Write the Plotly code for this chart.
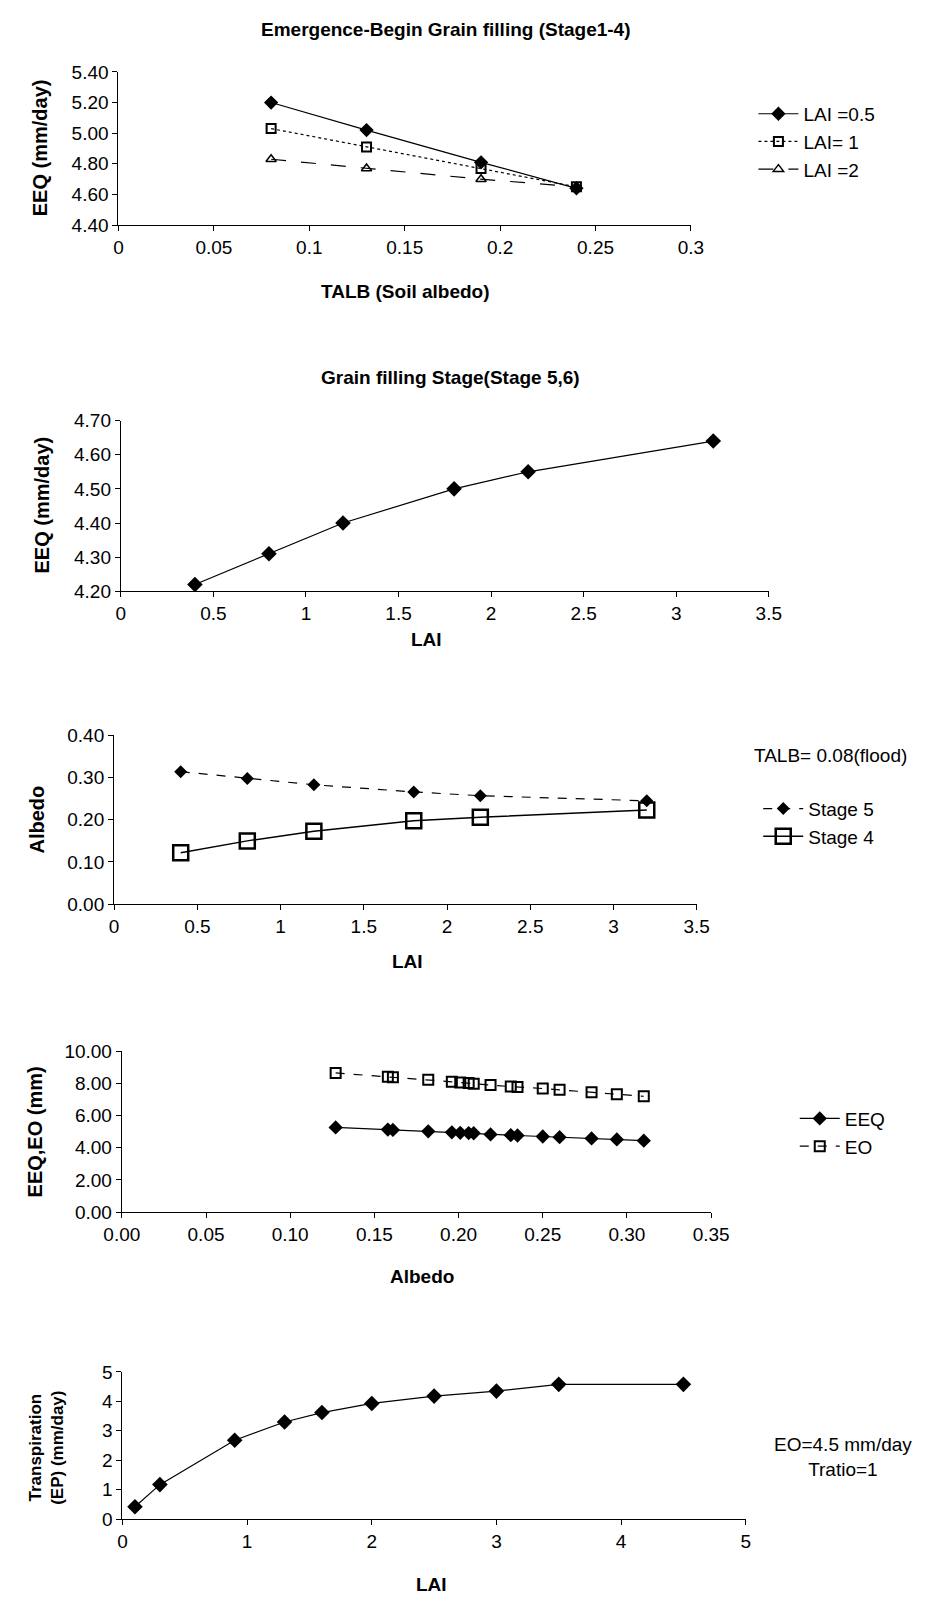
import plotly.graph_objects as go

W, H = 931, 1608

# ---------------- data ----------------
# Panel 1: EEQ vs soil albedo (Stage 1-4)
talb = [0.08, 0.13, 0.19, 0.24]
eeq_lai05 = [5.20, 5.02, 4.81, 4.64]
eeq_lai1 = [5.03, 4.91, 4.77, 4.65]
eeq_lai2 = [4.83, 4.77, 4.70, 4.65]

# Panel 2: EEQ vs LAI (Stage 5,6)
lai_p2 = [0.4, 0.8, 1.2, 1.8, 2.2, 3.2]
eeq_p2 = [4.22, 4.31, 4.40, 4.50, 4.55, 4.64]

# Panel 3: Albedo vs LAI
lai_p3 = [0.4, 0.8, 1.2, 1.8, 2.2, 3.2]
albedo_stage5 = [0.314, 0.298, 0.283, 0.266, 0.257, 0.245]
albedo_stage4 = [0.122, 0.150, 0.173, 0.198, 0.206, 0.223]

# Panel 4: EEQ, EO vs albedo
albedo_p4 = [0.127, 0.158, 0.161, 0.182, 0.196, 0.201, 0.206, 0.209,
             0.219, 0.231, 0.235, 0.250, 0.260, 0.279, 0.294, 0.310]
eeq_p4 = [5.26, 5.13, 5.11, 5.02, 4.96, 4.93, 4.91, 4.90,
          4.83, 4.78, 4.76, 4.70, 4.66, 4.58, 4.52, 4.44]
eo_p4 = [8.65, 8.42, 8.38, 8.22, 8.10, 8.05, 8.02, 7.98,
         7.90, 7.80, 7.78, 7.68, 7.60, 7.45, 7.32, 7.20]

# Panel 5: Transpiration vs LAI
lai_p5 = [0.1, 0.3, 0.9, 1.3, 1.6, 2.0, 2.5, 3.0, 3.5, 4.5]
ep_p5 = [0.42, 1.17, 2.68, 3.30, 3.62, 3.93, 4.18, 4.35, 4.58, 4.58]

# ---------------- helpers ----------------
FONT = "Arial, Liberation Sans, sans-serif"
BLACK = "#000000"


def px(x):
    return x / W


def py(y):
    return 1 - y / H


def xdom(a, b):
    return [px(a), px(b)]


def ydom(top, bottom):
    return [py(bottom), py(top)]


fig = go.Figure()

# Panel 1
fig.add_trace(go.Scatter(x=talb, y=eeq_lai05, name="LAI =0.5", mode="lines+markers",
                         line=dict(color=BLACK, width=1.2),
                         marker=dict(symbol="diamond", size=11, color=BLACK),
                         xaxis="x", yaxis="y", legend="legend"))
fig.add_trace(go.Scatter(x=talb, y=eeq_lai1, name="LAI= 1", mode="lines+markers",
                         line=dict(color=BLACK, width=1.2, dash="dot"),
                         marker=dict(symbol="square-open", size=9, color=BLACK,
                                     line=dict(width=2, color=BLACK)),
                         xaxis="x", yaxis="y", legend="legend"))
fig.add_trace(go.Scatter(x=talb, y=eeq_lai2, name="LAI =2", mode="lines+markers",
                         line=dict(color=BLACK, width=1.2, dash="longdash"),
                         marker=dict(symbol="triangle-up-open", size=9, color=BLACK,
                                     line=dict(width=1.5, color=BLACK)),
                         xaxis="x", yaxis="y", legend="legend"))

# Panel 2
fig.add_trace(go.Scatter(x=lai_p2, y=eeq_p2, mode="lines+markers", showlegend=False,
                         line=dict(color=BLACK, width=1.2),
                         marker=dict(symbol="diamond", size=12, color=BLACK),
                         xaxis="x2", yaxis="y2"))

# Panel 3
fig.add_trace(go.Scatter(x=lai_p3, y=albedo_stage5, name="Stage 5", mode="lines+markers",
                         line=dict(color=BLACK, width=1.2, dash="dash"),
                         marker=dict(symbol="diamond", size=10, color=BLACK),
                         xaxis="x3", yaxis="y3", legend="legend2"))
fig.add_trace(go.Scatter(x=lai_p3, y=albedo_stage4, name="Stage 4", mode="lines+markers",
                         line=dict(color=BLACK, width=1.5),
                         marker=dict(symbol="square-open", size=15, color=BLACK,
                                     line=dict(width=2.5, color=BLACK)),
                         xaxis="x3", yaxis="y3", legend="legend2"))

# Panel 4
fig.add_trace(go.Scatter(x=albedo_p4, y=eeq_p4, name="EEQ", mode="lines+markers",
                         line=dict(color=BLACK, width=1.2),
                         marker=dict(symbol="diamond", size=11, color=BLACK),
                         xaxis="x4", yaxis="y4", legend="legend3"))
fig.add_trace(go.Scatter(x=albedo_p4, y=eo_p4, name="EO", mode="lines+markers",
                         line=dict(color=BLACK, width=1.2, dash="dash"),
                         marker=dict(symbol="square-open", size=10, color=BLACK,
                                     line=dict(width=2, color=BLACK)),
                         xaxis="x4", yaxis="y4", legend="legend3"))

# Panel 5
fig.add_trace(go.Scatter(x=lai_p5, y=ep_p5, mode="lines+markers", showlegend=False,
                         line=dict(color=BLACK, width=1.2),
                         marker=dict(symbol="diamond", size=12, color=BLACK),
                         xaxis="x5", yaxis="y5"))

for tr in fig.data:
    tr.cliponaxis = False

axis_common = dict(showline=True, linecolor=BLACK, linewidth=1.2, ticks="outside",
                   ticklen=5, tickcolor=BLACK, tickwidth=1, showgrid=False, zeroline=False,
                   tickfont=dict(family=FONT, size=19, color=BLACK), fixedrange=True)

layout_axes = dict(
    xaxis=dict(axis_common, domain=xdom(104.5, 700), range=[0, 0.3], dtick=0.05, anchor="y"),
    yaxis=dict(axis_common, domain=ydom(62.7, 218), range=[4.4, 5.4], dtick=0.2,
               tickformat=".2f", anchor="x"),
    xaxis2=dict(axis_common, domain=xdom(107, 781), range=[0, 3.5], dtick=0.5, anchor="y2"),
    yaxis2=dict(axis_common, domain=ydom(416, 589), range=[4.2, 4.7], dtick=0.1,
                tickformat=".2f", anchor="x2"),
    xaxis3=dict(axis_common, domain=xdom(100, 706), range=[0, 3.5], dtick=0.5, anchor="y3"),
    yaxis3=dict(axis_common, domain=ydom(735, 906), range=[0, 0.4], dtick=0.1,
                tickformat=".2f", anchor="x3"),
    xaxis4=dict(axis_common, domain=xdom(108, 721), range=[0, 0.35], dtick=0.05,
                tickformat=".2f", anchor="y4"),
    yaxis4=dict(axis_common, domain=ydom(1055, 1218), range=[0, 10], dtick=2,
                tickformat=".2f", anchor="x4"),
    xaxis5=dict(axis_common, domain=xdom(108.7, 757), range=[0, 5], dtick=1, anchor="y5"),
    yaxis5=dict(axis_common, domain=ydom(1380, 1529), range=[0, 5], dtick=1, anchor="x5"),
)


def ann(text, x, y, size=19, bold=False, angle=0, align="center"):
    t = f"<b>{text}</b>" if bold else text
    return dict(text=t, x=px(x), y=py(y), xref="paper", yref="paper", showarrow=False,
                xanchor="center", yanchor="middle", textangle=angle, align=align,
                font=dict(family=FONT, size=size, color=BLACK))


annotations = [
    ann("Emergence-Begin Grain filling (Stage1-4)", 445, 20, bold=True),
    ann("TALB (Soil albedo)", 403, 285, bold=True),
    ann("EEQ (mm/day)", 23, 140, size=20, bold=True, angle=-90),
    ann("Grain filling Stage(Stage 5,6)", 450, 372, bold=True),
    ann("LAI", 425, 638, bold=True),
    ann("EEQ (mm/day)", 25, 502, size=20, bold=True, angle=-90),
    ann("LAI", 405, 964, bold=True),
    ann("Albedo", 20, 820, size=20, bold=True, angle=-90),
    ann("TALB= 0.08(flood)", 845, 755),
    ann("Albedo", 420, 1283, bold=True),
    ann("EEQ,EO (mm)", 18, 1137, size=20, bold=True, angle=-90),
    ann("LAI", 430, 1595, bold=True),
    ann("Transpiration<br>(EP) (mm/day)", 30, 1457, size=17, bold=True, angle=-90),
    ann("EO=4.5 mm/day<br>Tratio=1", 858, 1466),
]

legend_common = dict(font=dict(family=FONT, size=19, color=BLACK), bgcolor="rgba(0,0,0,0)",
                     borderwidth=0, xanchor="left", yanchor="top", tracegroupgap=0,
                     itemwidth=40)

fig.update_layout(
    width=W, height=H,
    margin=dict(l=0, r=0, t=0, b=0),
    paper_bgcolor="white", plot_bgcolor="white",
    font=dict(family=FONT, size=19, color=BLACK),
    legend=dict(legend_common, x=px(765), y=py(86)),
    legend2=dict(legend_common, x=px(770), y=py(790)),
    legend3=dict(legend_common, x=px(808), y=py(1104)),
    annotations=annotations,
    **layout_axes,
)

fig.write_html("out.html")
